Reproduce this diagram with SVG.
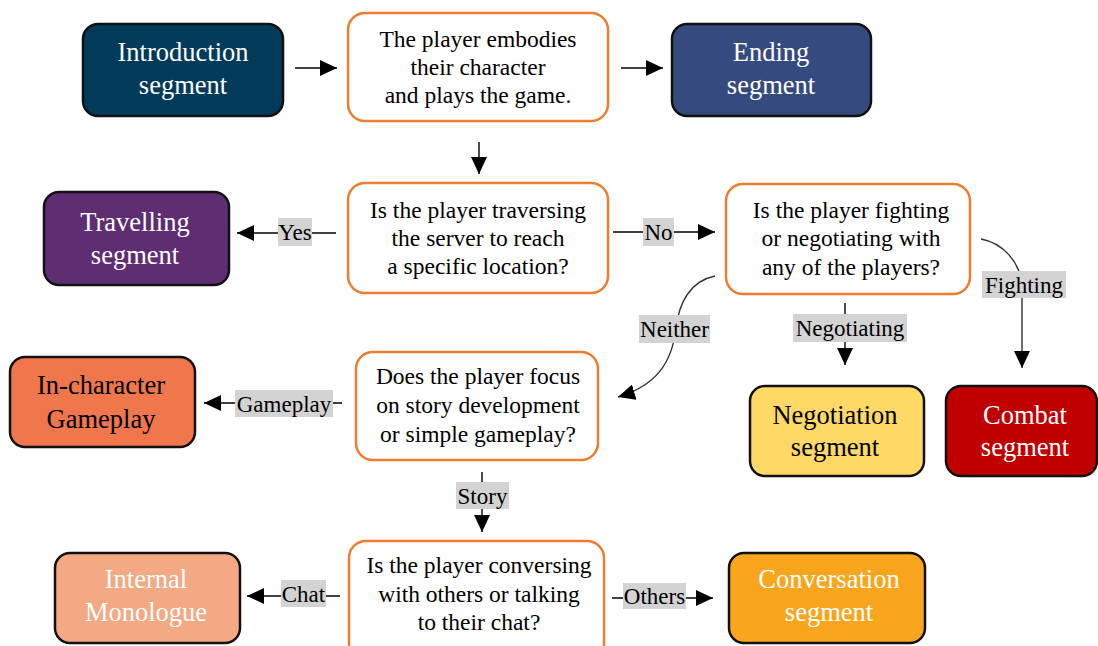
<svg xmlns="http://www.w3.org/2000/svg" width="1098" height="646" viewBox="0 0 1098 646">
<style>
text{font-family:'Liberation Serif','DejaVu Serif',serif}
.nd{stroke:#111;stroke-width:2.5}
.q{fill:#fff;stroke:#ED7D31;stroke-width:2.5}
.tw{font-size:26.5px;fill:#fff;text-anchor:middle}
.tb{font-size:26.5px;fill:#000;text-anchor:middle}
.tq{font-size:23.5px;fill:#000;text-anchor:middle}
.lb{font-size:23px;fill:#000;text-anchor:middle}
.lbg{fill:#D3D3D3}
.c{fill:none;stroke:#000;stroke-width:1.4}
.cv{fill:none;stroke:#333;stroke-width:1.4}
</style>
<defs>
<marker id="ah" viewBox="0 0 17 16" refX="17" refY="8" markerWidth="17" markerHeight="16" markerUnits="userSpaceOnUse" orient="auto">
<path d="M0,0 L17,8 L0,16 z" fill="#000"/>
</marker>
</defs>
<rect width="1098" height="646" fill="#fff"/>

<g id="connectors">
<line class="c" x1="295" y1="68" x2="337" y2="68" marker-end="url(#ah)"/>
<line class="c" x1="621" y1="68" x2="663" y2="68" marker-end="url(#ah)"/>
<line class="c" x1="479" y1="142" x2="479" y2="174" marker-end="url(#ah)"/>
<line class="c" x1="336" y1="233" x2="237" y2="233" marker-end="url(#ah)"/>
<line class="c" x1="613" y1="232" x2="715" y2="232" marker-end="url(#ah)"/>
<path class="cv" d="M715,276 C690,281 679,303 676,328 C672,364 655,386 618,397" marker-end="url(#ah)"/>
<line class="c" x1="845" y1="303" x2="845" y2="365" marker-end="url(#ah)"/>
<path class="cv" d="M981,239 C1003,243 1020,262 1022,285 L1022,368" marker-end="url(#ah)"/>
<line class="c" x1="342" y1="403" x2="204" y2="403" marker-end="url(#ah)"/>
<line class="c" x1="482" y1="472" x2="482" y2="532" marker-end="url(#ah)"/>
<line class="c" x1="340" y1="596" x2="247" y2="596" marker-end="url(#ah)"/>
<line class="c" x1="612" y1="598" x2="713" y2="598" marker-end="url(#ah)"/>

<rect class="lbg" x="278" y="218" width="34" height="28"/>
<text class="lb" x="295" y="240">Yes</text>
<rect class="lbg" x="643" y="218" width="31" height="28"/>
<text class="lb" x="658.5" y="240">No</text>
<rect class="lbg" x="639" y="315" width="71" height="28"/>
<text class="lb" x="674.5" y="337">Neither</text>
<rect class="lbg" x="793" y="314" width="114" height="28"/>
<text class="lb" x="850" y="336">Negotiating</text>
<rect class="lbg" x="982" y="271" width="84" height="27"/>
<text class="lb" x="1024" y="293">Fighting</text>
<rect class="lbg" x="235" y="390" width="98" height="27"/>
<text class="lb" x="284" y="412">Gameplay</text>
<rect class="lbg" x="456" y="482" width="53" height="27"/>
<text class="lb" x="482.5" y="504">Story</text>
<rect class="lbg" x="281" y="580" width="45" height="27"/>
<text class="lb" x="303.5" y="602">Chat</text>
<rect class="lbg" x="623" y="583" width="63" height="26"/>
<text class="lb" x="654.5" y="604">Others</text>
</g>

<g id="intro">
<rect class="nd" x="83" y="24" width="200" height="92" rx="15" fill="#023B5A"/>
<text class="tw" x="183" y="61">Introduction</text>
<text class="tw" x="183" y="94">segment</text>
</g>
<g id="embody">
<rect class="q" x="348" y="13" width="260" height="108" rx="17"/>
<text class="tq" x="478" y="47">The player embodies</text>
<text class="tq" x="478" y="75">their character</text>
<text class="tq" x="478" y="103">and plays the game.</text>
</g>
<g id="ending">
<rect class="nd" x="672" y="24" width="199" height="92" rx="15" fill="#354B7F"/>
<text class="tw" x="771" y="61">Ending</text>
<text class="tw" x="771" y="94">segment</text>
</g>
<g id="travelling">
<rect class="nd" x="44" y="192" width="185" height="93" rx="15" fill="#5E2D72"/>
<text class="tw" x="135" y="231">Travelling</text>
<text class="tw" x="135" y="264">segment</text>
</g>
<g id="traverse">
<rect class="q" x="348" y="183" width="260" height="110" rx="17"/>
<text class="tq" x="478" y="218">Is the player traversing</text>
<text class="tq" x="478" y="246">the server to reach</text>
<text class="tq" x="478" y="274">a specific location?</text>
</g>
<g id="fight">
<rect class="q" x="726" y="184" width="244" height="110" rx="17"/>
<text class="tq" x="851" y="218">Is the player fighting</text>
<text class="tq" x="851" y="246">or negotiating with</text>
<text class="tq" x="851" y="275">any of the players?</text>
</g>
<g id="incharacter">
<rect class="nd" x="10" y="357" width="185" height="90" rx="15" fill="#F0764B"/>
<text class="tb" x="101" y="394">In-character</text>
<text class="tb" x="101" y="428">Gameplay</text>
</g>
<g id="focus">
<rect class="q" x="356" y="352" width="242" height="108" rx="17"/>
<text class="tq" x="478" y="384">Does the player focus</text>
<text class="tq" x="478" y="413">on story development</text>
<text class="tq" x="478" y="442">or simple gameplay?</text>
</g>
<g id="negotiation">
<rect class="nd" x="750" y="386" width="174" height="90" rx="15" fill="#FFD966"/>
<text class="tb" x="835" y="424">Negotiation</text>
<text class="tb" x="835" y="456">segment</text>
</g>
<g id="combat">
<rect class="nd" x="946" y="386" width="151" height="90" rx="15" fill="#C00000"/>
<text class="tw" x="1025" y="424">Combat</text>
<text class="tw" x="1025" y="456">segment</text>
</g>
<g id="internal">
<rect class="nd" x="55" y="553" width="185" height="90" rx="15" fill="#F2A984"/>
<text class="tw" x="146" y="588">Internal</text>
<text class="tw" x="146" y="621">Monologue</text>
</g>
<g id="conversing">
<rect class="q" x="349" y="541" width="255" height="120" rx="17"/>
<text class="tq" x="479" y="573">Is the player conversing</text>
<text class="tq" x="479" y="602">with others or talking</text>
<text class="tq" x="479" y="630">to their chat?</text>
</g>
<g id="conversation">
<rect class="nd" x="729" y="553" width="196" height="90" rx="15" fill="#F9A61E"/>
<text class="tw" x="829" y="588">Conversation</text>
<text class="tw" x="829" y="621">segment</text>
</g>
</svg>
